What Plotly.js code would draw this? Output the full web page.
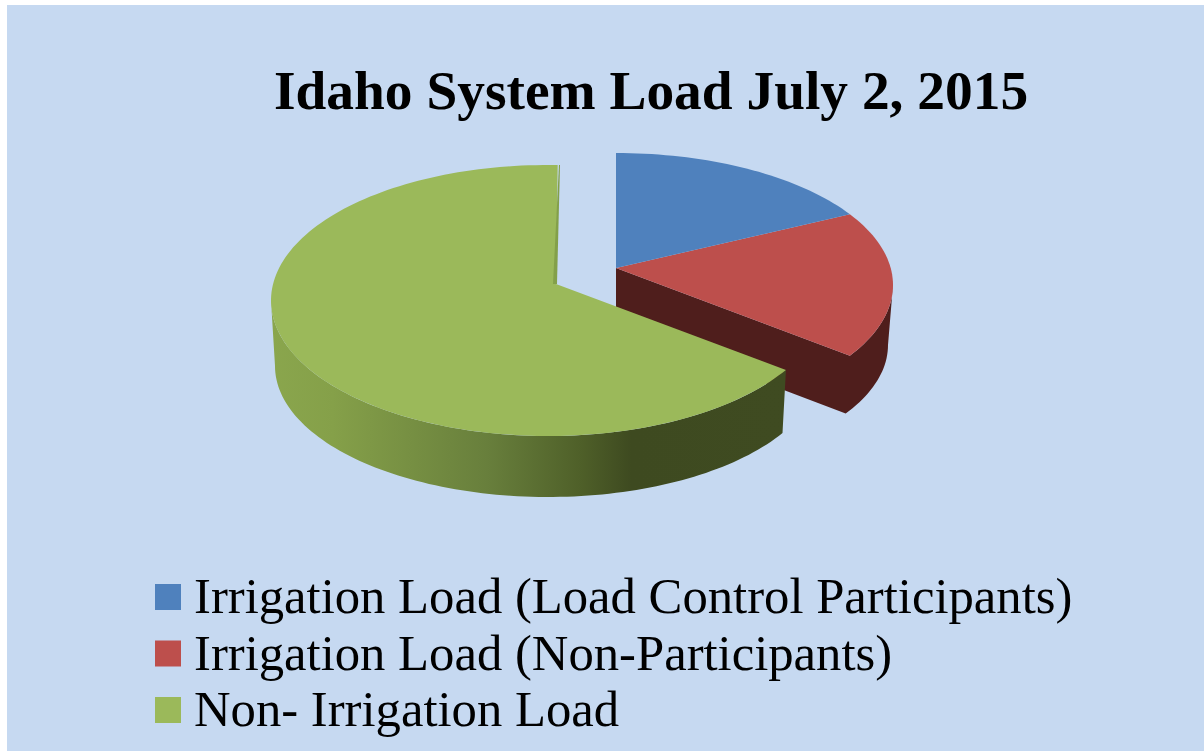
<!DOCTYPE html>
<html>
<head>
<meta charset="utf-8">
<script src="https://cdn.plot.ly/plotly-3.0.1.min.js"></script>
<style>html,body{margin:0;padding:0;background:#fff;overflow:hidden}</style>
</head>
<body>
<div id="chart" style="width:1204px;height:751px"></div>
<script>
// Data (share of load, percentage points)
const categories = ['Irrigation Load (Load Control Participants)', 'Irrigation Load (Non-Participants)', 'Non- Irrigation Load'];
const shares = [16, 18, 67];
const colors = ['#4f81bd', '#bd4f4c', '#9bb95a'];
const titleText = 'Idaho System Load July 2, 2015';

// Perspective geometry of the pseudo-3D pie
const DEG_PER_POINT = 3.6;
const rightTop = {cx: 616, cy: 285, rx: 277, ry: 132};
const rightBottom = {cx: 616, cy: 345, rx: 272, ry: 128};
const rightApex = [616, 268], rightApexLow = [616, 326];
const greenTop = {cx: 548, cy: 300.5, rx: 277, ry: 135.5};
const greenBottom = {cx: 548, cy: 366, rx: 273, ry: 131};
const greenApex = [556, 284];
const greenEnd = 362;

function arc(e, from, to) {
  const pts = [], n = Math.max(2, Math.ceil(Math.abs(to - from) / 1.5));
  for (let i = 0; i <= n; i++) {
    const t = (from + (to - from) * i / n) * Math.PI / 180;
    pts.push([e.cx + e.rx * Math.sin(t), e.cy - e.ry * Math.cos(t)]);
  }
  return pts;
}
function poly(pts, color, name, extra) {
  return Object.assign({
    type: 'scatter', mode: 'none', fill: 'toself', fillcolor: color,
    x: pts.map(p => p[0]), y: pts.map(p => p[1]),
    name: name, showlegend: false, hoverinfo: 'name'
  }, extra || {});
}

const blueEnd = shares[0] * DEG_PER_POINT;
const redEnd = blueEnd + shares[1] * DEG_PER_POINT;
const greenStart = greenEnd - shares[2] * DEG_PER_POINT;

const traces = [
  // red wedge: walls, then top face
  poly([rightApex, rightApexLow].concat(arc(rightBottom, redEnd, 90), arc(rightTop, 90, redEnd)),
       '#4f1e1c', categories[1] + ' (side)'),
  poly([rightApex].concat(arc(rightTop, blueEnd, redEnd)), colors[1], categories[1]),
  // blue wedge
  poly([rightApex].concat(arc(rightTop, 0, blueEnd)), colors[0], categories[0]),
  // green wedge: rim with gradient, top face, thin wall at the gap
  poly(arc(greenTop, greenStart, 270).concat(arc(greenBottom, 270, greenStart)), '#6b8240',
       categories[2] + ' (side)', {
    fillgradient: {type: 'horizontal', colorscale: [
      [0, '#8aa64d'], [0.12, '#85a049'], [0.42, '#687f3c'],
      [0.6, '#4f6029'], [0.7, '#3e4a20'], [1, '#3f4b21']
    ]}
  }),
  poly([greenApex].concat(arc(greenTop, greenStart, greenEnd)), colors[2], categories[2]),
  poly([[559, 165], [560, 165], [557, 284], [553, 284]], '#83a04a', categories[2] + ' (gap wall)')
];

// Legend drawn with annotations and squares so its size matches the original
const LEG_X = 155, LEG_SIZE = 26, LEG_TEXT_X = 193, LEG_Y0 = 596, LEG_STEP = 56.5;
const annotations = categories.map((c, i) => ({
  text: c, xref: 'x', yref: 'y', x: LEG_TEXT_X, y: LEG_Y0 + i * LEG_STEP,
  xanchor: 'left', yanchor: 'middle', showarrow: false, borderpad: 0,
  font: {family: '"Liberation Serif", serif', size: 50.7, color: '#000'}
}));
const shapes = categories.map((c, i) => ({
  type: 'rect', xref: 'x', yref: 'y', layer: 'above',
  x0: LEG_X, x1: LEG_X + LEG_SIZE,
  y0: 597 + i * LEG_STEP - LEG_SIZE / 2, y1: 597 + i * LEG_STEP + LEG_SIZE / 2,
  fillcolor: colors[i], line: {width: 0}
}));

const layout = {
  width: 1204, height: 751,
  margin: {l: 7, r: 0, t: 5, b: 0, pad: 0},
  paper_bgcolor: '#ffffff', plot_bgcolor: '#c6d9f1',
  title: {
    text: titleText, x: (274 - 7) / 1197, xanchor: 'left', xref: 'paper',
    y: 1 - 90 / 751, yanchor: 'middle', yref: 'container',
    font: {family: '"Liberation Serif", serif', size: 55.4, color: '#000', weight: 700}
  },
  xaxis: {visible: false, range: [7, 1204], fixedrange: true},
  yaxis: {visible: false, range: [751, 5], fixedrange: true},
  showlegend: false,
  annotations: annotations, shapes: shapes
};
Plotly.newPlot('chart', traces, layout, {displayModeBar: false, responsive: false});
</script>
</body>
</html>
